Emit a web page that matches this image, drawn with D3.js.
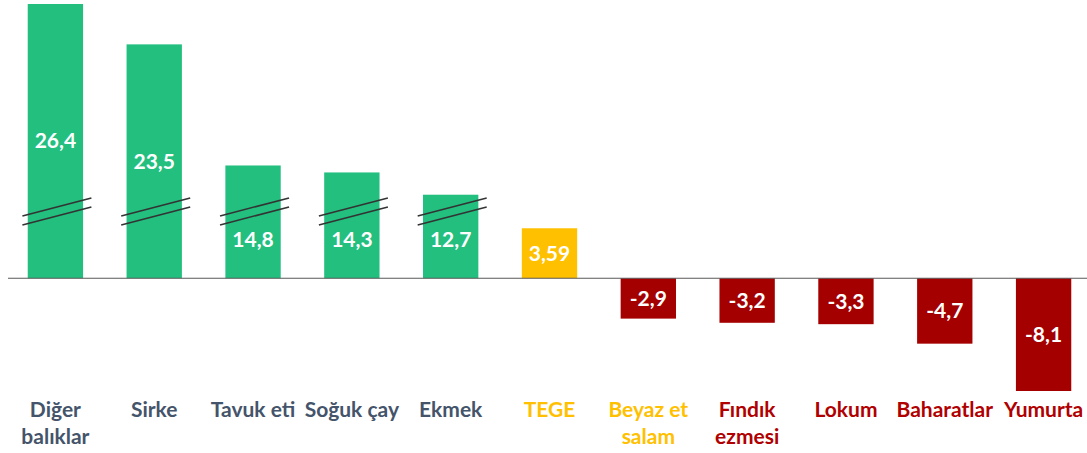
<!DOCTYPE html>
<html>
<head>
<meta charset="utf-8">
<script src="https://cdn.jsdelivr.net/npm/d3@7"></script>
<style>
  body { margin: 0; background: #fff; }
  svg text { font-family: Lato, "Open Sans", sans-serif; font-weight: bold; }
</style>
</head>
<body>
<svg id="chart"></svg>
<script>
var width = 1087;
var height = 453;

// veriler
var categories = ["Diğer\nbalıklar", "Sirke", "Tavuk eti", "Soğuk çay", "Ekmek", "TEGE",
                  "Beyaz et\nsalam", "Fındık\nezmesi", "Lokum", "Baharatlar", "Yumurta"];
var values = [26.4, 23.5, 14.8, 14.3, 12.7, 3.59, -2.9, -3.2, -3.3, -4.7, -8.1];
var barGroups = ["up", "up", "up", "up", "up", "tege", "down", "down", "down", "down", "down"];
var labelGroups = ["up", "up", "up", "up", "up", "tege", "tege", "down", "down", "down", "down"];

// kırık eksen: 10'dan büyük değerler bu kadar kısaltılarak çiziliyor
var breakLimit = 10;
var breakGap = 6.7;
var breakAt = 4.8;

var barColor = { up: "#22BF7F", tege: "#FFC000", down: "#A50000" };
var textColor = { up: "#44546A", tege: "#FFC000", down: "#B00000" };

function shown(v) { return v > breakLimit ? v - breakGap : v; }
function fmt(v) { return String(v).replace(".", ","); }

var svg = d3.select("#chart")
  .attr("width", width)
  .attr("height", height);

var x = d3.scaleBand()
  .domain(categories)
  .range([6, 1093])
  .paddingInner(0.44)
  .paddingOuter(0.22);

var y = d3.scaleLinear()
  .domain([-8.1, 26.4 - breakGap])
  .range([391, 4]);

var data = categories.map(function(c, i) {
  return { name: c, value: values[i], bar: barGroups[i], label: labelGroups[i] };
});

// çubuklar
svg.append("g").selectAll("rect")
  .data(data)
  .join("rect")
  .attr("x", d => x(d.name))
  .attr("width", x.bandwidth())
  .attr("y", d => y(Math.max(0, shown(d.value))))
  .attr("height", d => Math.abs(y(shown(d.value)) - y(0)))
  .attr("fill", d => barColor[d.bar]);

// eksen çizgisi
svg.append("line")
  .attr("x1", 8).attr("x2", width)
  .attr("y1", y(0)).attr("y2", y(0))
  .attr("stroke", "#595959")
  .attr("stroke-width", 1.2);

// kırık işaretleri
var broken = data.filter(d => d.value > breakLimit);
var marks = svg.append("g").selectAll("g")
  .data(broken)
  .join("g")
  .attr("transform", d => "translate(" + (x(d.name) + x.bandwidth() / 2) + "," + y(breakAt) + ")");
[-4.5, 4.5].forEach(function(off) {
  marks.append("line")
    .attr("x1", -33).attr("x2", 36)
    .attr("y1", off + 9).attr("y2", off - 9)
    .attr("stroke", "#333")
    .attr("stroke-width", 1.6);
});

// değer etiketleri
svg.append("g").selectAll("text")
  .data(data)
  .join("text")
  .attr("x", d => x(d.name) + x.bandwidth() / 2)
  .attr("y", function(d) {
    var c = (y(shown(d.value)) + y(0)) / 2;
    // kırık işaretinin üstüne düşerse altına al
    if (d.value > breakLimit && c > y(breakAt) - 30) c = y(breakAt) + 28;
    return c;
  })
  .attr("dy", "0.35em")
  .attr("text-anchor", "middle")
  .attr("fill", "#fff")
  .attr("font-size", "21px")
  .text(d => fmt(d.value));

// kategori etiketleri
var lab = svg.append("g").selectAll("text")
  .data(data)
  .join("text")
  .attr("x", d => x(d.name) + x.bandwidth() / 2)
  .attr("y", 417)
  .attr("text-anchor", "middle")
  .attr("fill", d => textColor[d.label])
  .attr("font-size", "21px");
lab.selectAll("tspan")
  .data(d => d.name.split("\n"))
  .join("tspan")
  .attr("x", function() { return d3.select(this.parentNode).attr("x"); })
  .attr("dy", (d, i) => i ? 27 : 0)
  .text(d => d);
</script>
</body>
</html>
